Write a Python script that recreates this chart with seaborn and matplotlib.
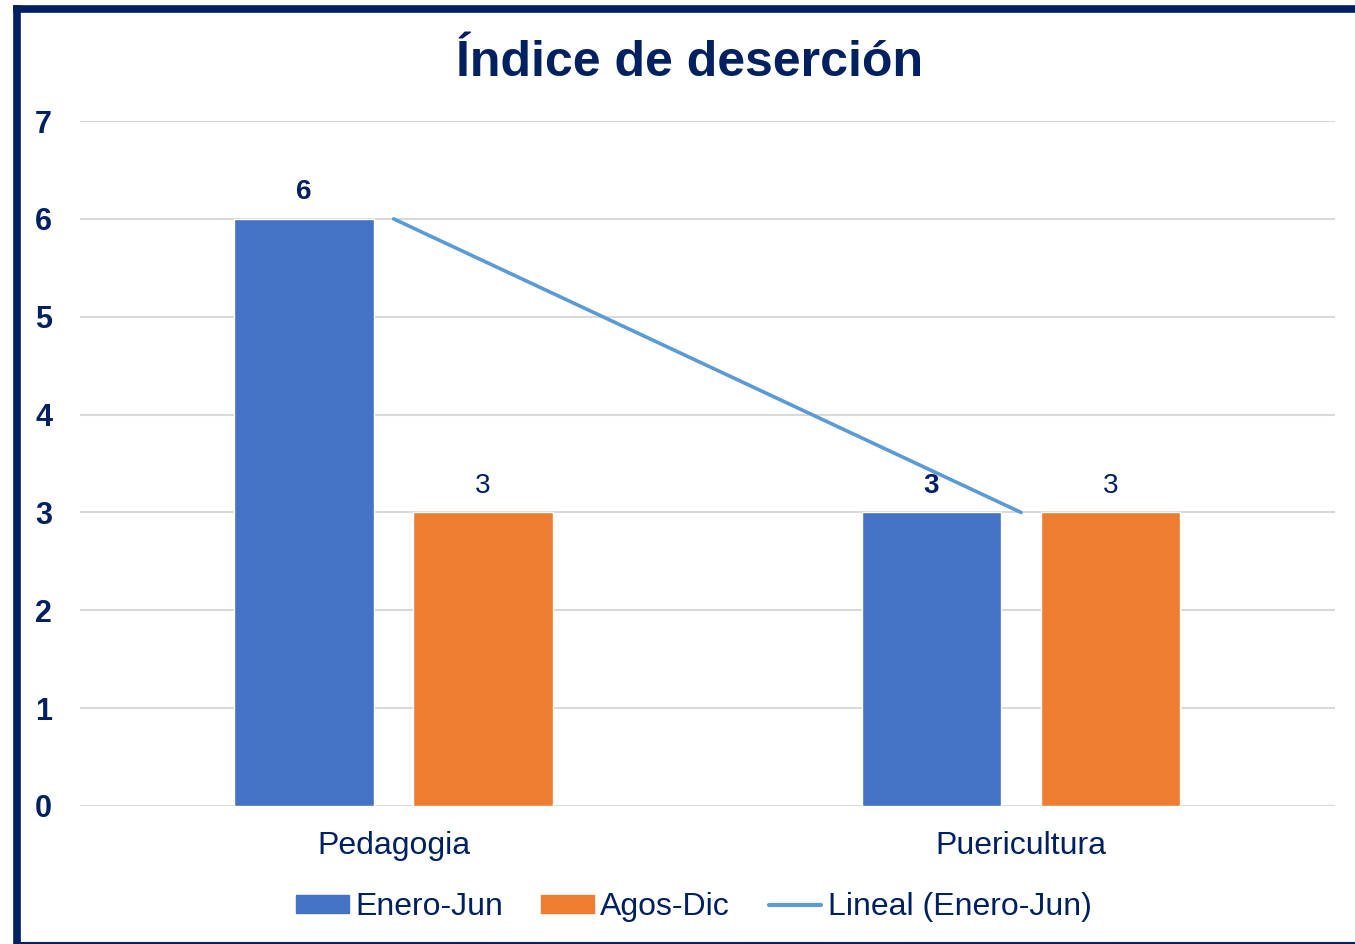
import numpy as np
import pandas as pd
import seaborn as sns
import matplotlib.pyplot as plt
from matplotlib.lines import Line2D
from matplotlib.patches import Patch

# data
carreras = ["Pedagogia", "Puericultura"]
enero_jun = [6, 3]
agos_dic = [3, 3]
periodos = ["Enero-Jun", "Agos-Dic"]

navy = "#002060"
azul = "#4472C4"
naranja = "#ED7D31"
tendencia = "#5B9BD5"

df = pd.DataFrame({
    "carrera": carreras * 2,
    "periodo": [periodos[0]] * 2 + [periodos[1]] * 2,
    "valor": enero_jun + agos_dic,
})

sns.set_theme(style="white")
plt.rcParams["font.family"] = ["Liberation Sans", "DejaVu Sans"]

fig = plt.figure(figsize=(13.55, 9.44), dpi=100)
ax = fig.add_axes([0.059, 0.1462, 0.926, 0.7256])

sns.barplot(data=df, x="carrera", y="valor", hue="periodo",
            palette=[azul, naranja], width=0.57, gap=0.22,
            saturation=1, ax=ax, legend=False)

# lineal trend (Enero-Jun)
xs = np.arange(len(carreras))
m, b = np.polyfit(xs, enero_jun, 1)
sns.lineplot(x=xs, y=m * xs + b, color=tendencia, linewidth=2.6, ax=ax)

ax.bar_label(ax.containers[0], fontsize=20, fontweight="bold", color=navy, padding=10)
ax.bar_label(ax.containers[1], fontsize=20, color=navy, padding=10)

ax.set_ylim(0, 7)
ax.set_xlim(-0.5, 1.5)
ax.set_yticks(range(0, 8))
ax.yaxis.grid(True, color="#D9D9D9", linewidth=1.5)
ax.set_axisbelow(True)
sns.despine(ax=ax, left=True, bottom=True)
ax.set_xlabel("")
ax.set_ylabel("")
ax.tick_params(axis="y", length=0, pad=20, labelsize=22, labelcolor=navy)
ax.tick_params(axis="x", length=0, pad=18, labelsize=23, labelcolor=navy)
for t in ax.get_yticklabels():
    t.set_fontweight("bold")

fig.text(0.509, 0.9335, "Índice de deserción", ha="center", va="center",
         fontsize=36, fontweight="bold", color=navy)

handles = [Patch(color=azul), Patch(color=naranja),
           Line2D([], [], color=tendencia, linewidth=3)]
leg = fig.legend(handles, ["Enero-Jun", "Agos-Dic", "Lineal (Enero-Jun)"],
                 loc="center", bbox_to_anchor=(0.512, 0.039), ncol=3,
                 frameon=False, fontsize=23, handlelength=1.65, handleheight=0.5,
                 handletextpad=0.2, columnspacing=1.2)
for t in leg.get_texts():
    t.set_color(navy)

# outer frame
fig.add_artist(Line2D([0.0122, 0.0122], [0.0, 0.9905], color=navy, linewidth=5.5,
                      transform=fig.transFigure, solid_capstyle="projecting"))
fig.add_artist(Line2D([0.0122, 1.0], [0.9905, 0.9905], color=navy, linewidth=5.5,
                      transform=fig.transFigure, solid_capstyle="projecting"))
fig.add_artist(Line2D([0.0122, 1.0], [0.0015, 0.0015], color=navy, linewidth=1.5,
                      transform=fig.transFigure))

fig.savefig("out.png", dpi=100)
